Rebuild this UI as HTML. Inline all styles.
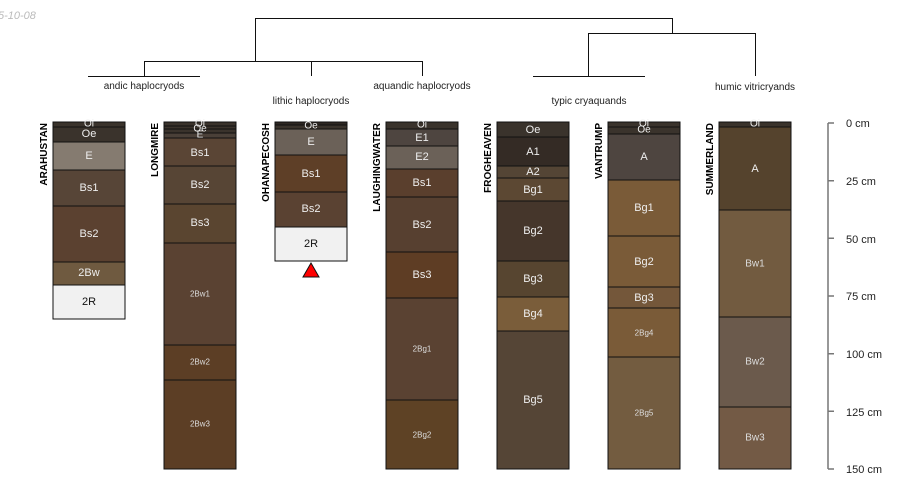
<!DOCTYPE html>
<html><head><meta charset="utf-8"><style>
html,body{margin:0;padding:0;background:#fff;}
svg{display:block;}
text{font-family:"Liberation Sans",sans-serif;}
.h{fill:#eee;font-size:11px;text-anchor:middle;dominant-baseline:central;}
.s{fill:#ddd;font-size:8px;text-anchor:middle;dominant-baseline:central;}
.d{fill:#111;font-size:11px;text-anchor:middle;dominant-baseline:central;}
.n{fill:#000;font-size:10px;font-weight:bold;text-anchor:end;}
.t{fill:#222;font-size:10px;text-anchor:middle;}
.a{fill:#222;font-size:11px;}
rect{stroke:#111;stroke-width:1;}
</style></head><body>
<svg width="900" height="500" xmlns="http://www.w3.org/2000/svg">
<text x="-2" y="19" style="font-size:11px;font-style:italic;fill:#bbb">5-10-08</text>
<!-- dendrogram -->
<g stroke="#111" stroke-width="1" fill="none">
<path d="M255.5 61V18.5H672.5V33"/>
<path d="M144.5 76V61.5H422.5V76"/>
<path d="M311.5 61V76"/>
<path d="M88 76.5H200"/>
<path d="M588.5 76V33.5H755.5V76"/>
<path d="M533 76.5H645"/>
</g>
<text class="t" x="144" y="89">andic haplocryods</text>
<text class="t" x="311" y="104">lithic haplocryods</text>
<text class="t" x="422" y="89">aquandic haplocryods</text>
<text class="t" x="589" y="104">typic cryaquands</text>
<text class="t" x="755" y="90">humic vitricryands</text>

<!-- ARAHUSTAN -->
<g>
<rect x="53" y="122" width="72" height="5" fill="#3a332c"/>
<rect x="53" y="127" width="72" height="15" fill="#3a332c"/>
<rect x="53" y="142" width="72" height="28" fill="#857b70"/>
<rect x="53" y="170" width="72" height="36" fill="#574537"/>
<rect x="53" y="206" width="72" height="56" fill="#5b4130"/>
<rect x="53" y="262" width="72" height="23" fill="#6f5a40"/>
<rect x="53" y="285" width="72" height="34" fill="#f1f1f1"/>
<text class="h" x="89" y="124" style="font-size:10px">Oi</text>
<text class="h" x="89" y="134">Oe</text>
<text class="h" x="89" y="156">E</text>
<text class="h" x="89" y="188">Bs1</text>
<text class="h" x="89" y="234">Bs2</text>
<text class="h" x="89" y="273">2Bw</text>
<text class="d" x="89" y="302">2R</text>
<text class="n" transform="translate(47,123) rotate(-90)">ARAHUSTAN</text>
</g>

<!-- LONGMIRE -->
<g>
<rect x="164" y="122" width="72" height="4" fill="#3a332c"/>
<rect x="164" y="126" width="72" height="3" fill="#3a332c"/>
<rect x="164" y="129" width="72" height="4" fill="#3a332c"/>
<rect x="164" y="133" width="72" height="5" fill="#4a4038"/>
<rect x="164" y="138" width="72" height="28" fill="#5a4535"/>
<rect x="164" y="166" width="72" height="38" fill="#574535"/>
<rect x="164" y="204" width="72" height="39" fill="#5a4530"/>
<rect x="164" y="243" width="72" height="102" fill="#5a4232"/>
<rect x="164" y="345" width="72" height="35" fill="#5c3e25"/>
<rect x="164" y="380" width="72" height="89" fill="#5c3e25"/>
<text class="h" x="200" y="124" style="font-size:10px">Oi</text>
<text class="h" x="200" y="129" style="font-size:10px">Oe</text>
<text class="h" x="200" y="135" style="font-size:10px">E</text>
<text class="h" x="200" y="153">Bs1</text>
<text class="h" x="200" y="185">Bs2</text>
<text class="h" x="200" y="223">Bs3</text>
<text class="s" x="200" y="294">2Bw1</text>
<text class="s" x="200" y="362">2Bw2</text>
<text class="s" x="200" y="424">2Bw3</text>
<text class="n" transform="translate(158,123) rotate(-90)">LONGMIRE</text>
</g>

<!-- OHANAPECOSH -->
<g>
<rect x="275" y="122" width="72" height="3" fill="#2e2823"/>
<rect x="275" y="125" width="72" height="4" fill="#3a332c"/>
<rect x="275" y="129" width="72" height="26" fill="#6b6158"/>
<rect x="275" y="155" width="72" height="37" fill="#5e3f27"/>
<rect x="275" y="192" width="72" height="35" fill="#5a4232"/>
<rect x="275" y="227" width="72" height="34" fill="#f1f1f1"/>
<text class="h" x="311" y="126" style="font-size:10px">Oe</text>
<text class="h" x="311" y="142">E</text>
<text class="h" x="311" y="174">Bs1</text>
<text class="h" x="311" y="209">Bs2</text>
<text class="d" x="311" y="244">2R</text>
<polygon points="311,263 303,277 319,277" fill="#f00" stroke="#111" stroke-width="1"/>
<text class="n" transform="translate(269,123) rotate(-90)">OHANAPECOSH</text>
</g>

<!-- LAUGHINGWATER -->
<g>
<rect x="386" y="122" width="72" height="7" fill="#3a332c"/>
<rect x="386" y="129" width="72" height="17" fill="#4e4540"/>
<rect x="386" y="146" width="72" height="23" fill="#6b6158"/>
<rect x="386" y="169" width="72" height="28" fill="#5a3f2d"/>
<rect x="386" y="197" width="72" height="55" fill="#574030"/>
<rect x="386" y="252" width="72" height="46" fill="#5e3d24"/>
<rect x="386" y="298" width="72" height="102" fill="#5a4232"/>
<rect x="386" y="400" width="72" height="69" fill="#5e4225"/>
<text class="h" x="422" y="125" style="font-size:10px">Oi</text>
<text class="h" x="422" y="138">E1</text>
<text class="h" x="422" y="157">E2</text>
<text class="h" x="422" y="183">Bs1</text>
<text class="h" x="422" y="225">Bs2</text>
<text class="h" x="422" y="275">Bs3</text>
<text class="s" x="422" y="349">2Bg1</text>
<text class="s" x="422" y="435">2Bg2</text>
<text class="n" transform="translate(380,123) rotate(-90)">LAUGHINGWATER</text>
</g>

<!-- FROGHEAVEN -->
<g>
<rect x="497" y="122" width="72" height="15" fill="#3a332c"/>
<rect x="497" y="137" width="72" height="29" fill="#342b25"/>
<rect x="497" y="166" width="72" height="12" fill="#544535"/>
<rect x="497" y="178" width="72" height="23" fill="#5c4833"/>
<rect x="497" y="201" width="72" height="60" fill="#45362b"/>
<rect x="497" y="261" width="72" height="36" fill="#574530"/>
<rect x="497" y="297" width="72" height="34" fill="#7a5d3a"/>
<rect x="497" y="331" width="72" height="138" fill="#554536"/>
<text class="h" x="533" y="130">Oe</text>
<text class="h" x="533" y="152">A1</text>
<text class="h" x="533" y="172">A2</text>
<text class="h" x="533" y="190">Bg1</text>
<text class="h" x="533" y="231">Bg2</text>
<text class="h" x="533" y="279">Bg3</text>
<text class="h" x="533" y="314">Bg4</text>
<text class="h" x="533" y="400">Bg5</text>
<text class="n" transform="translate(491,123) rotate(-90)">FROGHEAVEN</text>
</g>

<!-- VANTRUMP -->
<g>
<rect x="608" y="122" width="72" height="5" fill="#3a332c"/>
<rect x="608" y="127" width="72" height="7" fill="#3a332c"/>
<rect x="608" y="134" width="72" height="46" fill="#4e4540"/>
<rect x="608" y="180" width="72" height="56" fill="#7a5b38"/>
<rect x="608" y="236" width="72" height="51" fill="#7a5b38"/>
<rect x="608" y="287" width="72" height="21" fill="#74573a"/>
<rect x="608" y="308" width="72" height="49" fill="#7a5b38"/>
<rect x="608" y="357" width="72" height="112" fill="#735c40"/>
<text class="h" x="644" y="124" style="font-size:10px">Oi</text>
<text class="h" x="644" y="130" style="font-size:10px">Oe</text>
<text class="h" x="644" y="157">A</text>
<text class="h" x="644" y="208">Bg1</text>
<text class="h" x="644" y="262">Bg2</text>
<text class="h" x="644" y="298">Bg3</text>
<text class="s" x="644" y="333">2Bg4</text>
<text class="s" x="644" y="413">2Bg5</text>
<text class="n" transform="translate(602,123) rotate(-90)">VANTRUMP</text>
</g>

<!-- SUMMERLAND -->
<g>
<rect x="719" y="122" width="72" height="5" fill="#3a332c"/>
<rect x="719" y="127" width="72" height="83" fill="#55432d"/>
<rect x="719" y="210" width="72" height="107" fill="#725b40"/>
<rect x="719" y="317" width="72" height="90" fill="#6b5a4c"/>
<rect x="719" y="407" width="72" height="62" fill="#735a45"/>
<text class="h" x="755" y="124" style="font-size:10px">Oi</text>
<text class="h" x="755" y="169">A</text>
<text class="s" x="755" y="264" style="font-size:10px">Bw1</text>
<text class="s" x="755" y="362" style="font-size:10px">Bw2</text>
<text class="s" x="755" y="438" style="font-size:10px">Bw3</text>
<text class="n" transform="translate(713,123) rotate(-90)">SUMMERLAND</text>
</g>

<!-- depth axis -->
<g stroke="#777" stroke-width="1.5" fill="none">
<path d="M828 123V469"/>
<path d="M828 123H834M828 180.7H834M828 238.3H834M828 296H834M828 353.7H834M828 411.3H834M828 469H834"/>
</g>
<text class="a" x="846" y="127">0 cm</text>
<text class="a" x="846" y="185">25 cm</text>
<text class="a" x="846" y="243">50 cm</text>
<text class="a" x="846" y="300">75 cm</text>
<text class="a" x="846" y="358">100 cm</text>
<text class="a" x="846" y="416">125 cm</text>
<text class="a" x="846" y="473">150 cm</text>
</svg>
</body></html>
